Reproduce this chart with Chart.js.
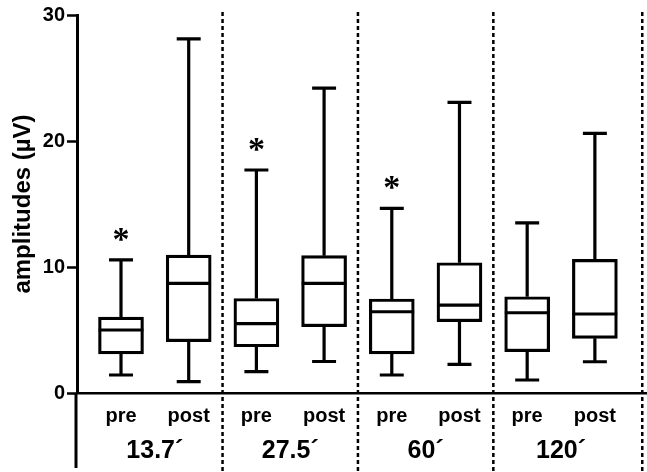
<!DOCTYPE html>
<html>
<head>
<meta charset="utf-8">
<script src="https://cdn.jsdelivr.net/npm/chart.js@4.4.0/dist/chart.umd.min.js"></script>
<style>
  html, body { margin: 0; padding: 0; background: #fff; }
  #wrap { width: 647px; height: 472px; }
</style>
</head>
<body>
<div id="wrap"><canvas id="boxChart"></canvas></div>
<script>
// one box per slot: pre/post for each time point
const slots = ['pre', 'post', 'pre', 'post', 'pre', 'post', 'pre', 'post'];
const groups = ['13.7´', '27.5´', '60´', '120´'];
const whiskerMin = [1.43, 0.9, 1.7, 2.5, 1.43, 2.27, 1.03, 2.48];
const q1 = [3.1, 4.07, 3.67, 5.26, 3.1, 5.66, 3.28, 4.34];
const median = [5.0, 8.7, 5.5, 8.7, 6.45, 6.98, 6.37, 6.27];
const q3 = [6.03, 10.95, 7.5, 10.9, 7.46, 10.34, 7.64, 10.6];
const whiskerMax = [10.56, 28.1, 17.7, 24.2, 14.65, 23.07, 13.5, 20.6];
const significant = [true, false, true, false, true, false, false, false];
const dividers = [2.5, 4.5, 6.5, 8.7];
const yTicks = [0, 10, 20, 30];

const slotPos = slots.map((s, i) => i + 1);
const groupPos = groups.map((g, i) => 2 * i + 1.5);

const fontFamily = "'Liberation Sans', Arial, sans-serif";

const boxExtras = {
  id: 'boxExtras',
  beforeDatasetsDraw(chart) {
    const ctx = chart.ctx;
    const x = chart.scales.x, y = chart.scales.y;
    ctx.save();
    ctx.strokeStyle = '#000';
    // y axis continues below zero
    ctx.lineWidth = 3;
    ctx.beginPath();
    ctx.moveTo(y.right - 1, chart.chartArea.bottom);
    ctx.lineTo(y.right - 1, chart.height - 4);
    ctx.stroke();
    // dashed group separators
    ctx.lineWidth = 2.5;
    ctx.setLineDash([4, 3]);
    dividers.forEach(d => {
      const px = x.getPixelForValue(d);
      ctx.beginPath();
      ctx.moveTo(px, chart.chartArea.top - 3);
      ctx.lineTo(px, chart.height);
      ctx.stroke();
    });
    ctx.restore();
  },
  afterDatasetsDraw(chart) {
    const ctx = chart.ctx;
    const x = chart.scales.x, y = chart.scales.y;
    const capHalf = 0.177;
    const boxHalf = 0.33;
    ctx.save();
    ctx.strokeStyle = '#000';
    ctx.fillStyle = '#000';
    ctx.lineWidth = 3.2;
    slotPos.forEach((p, i) => {
      const cx = x.getPixelForValue(p);
      const cl = x.getPixelForValue(p - capHalf), cr = x.getPixelForValue(p + capHalf);
      const top = y.getPixelForValue(whiskerMax[i]);
      const bot = y.getPixelForValue(whiskerMin[i]);
      ctx.beginPath();
      ctx.moveTo(cx, top); ctx.lineTo(cx, y.getPixelForValue(q3[i]));
      ctx.moveTo(cx, bot); ctx.lineTo(cx, y.getPixelForValue(q1[i]));
      ctx.moveTo(cl, top); ctx.lineTo(cr, top);
      ctx.moveTo(cl, bot); ctx.lineTo(cr, bot);
      const m = y.getPixelForValue(median[i]);
      ctx.moveTo(x.getPixelForValue(p - boxHalf), m);
      ctx.lineTo(x.getPixelForValue(p + boxHalf), m);
      ctx.stroke();
      if (significant[i]) {
        ctx.font = "bold 34px 'Liberation Serif', serif";
        ctx.textAlign = 'center';
        ctx.textBaseline = 'middle';
        ctx.fillText('*', cx, top - 19);
      }
    });
    ctx.restore();
  }
};

new Chart(document.getElementById('boxChart'), {
  type: 'bar',
  data: {
    datasets: [{
      data: slotPos.map((p, i) => ({ x: p, y: [q1[i], q3[i]] })),
      backgroundColor: '#fff',
      borderColor: '#000',
      borderWidth: 3.2,
      borderSkipped: false,
      barThickness: 45
    }]
  },
  options: {
    responsive: true,
    maintainAspectRatio: false,
    animation: false,
    layout: { padding: { top: 15, left: 0, right: 0, bottom: 0 } },
    plugins: { legend: { display: false }, tooltip: { enabled: false } },
    scales: {
      x: {
        type: 'linear',
        min: 0.35,
        max: 8.77,
        offset: false,
        grid: { display: false, drawTicks: false },
        border: { display: true, color: '#000', width: 2.5 },
        afterBuildTicks: s => { s.ticks = slotPos.map(v => ({ value: v })); },
        afterFit: s => { s.height = 38; },
        ticks: {
          autoSkip: false,
          maxRotation: 0,
          padding: 11,
          color: '#000',
          font: { family: fontFamily, size: 20, weight: 'bold' },
          callback: (v) => slots[Math.round(v) - 1]
        }
      },
      x2: {
        type: 'linear',
        position: 'bottom',
        min: 0.35,
        max: 8.77,
        offset: false,
        grid: { display: false, drawTicks: false },
        border: { display: false },
        afterBuildTicks: s => { s.ticks = groupPos.map(v => ({ value: v })); },
        afterFit: s => { s.height = 41; },
        ticks: {
          autoSkip: false,
          maxRotation: 0,
          padding: 5,
          color: '#000',
          font: { family: fontFamily, size: 25, weight: 'bold' },
          callback: (v) => groups[Math.round((v - 1.5) / 2)]
        }
      },
      y: {
        min: 0,
        max: 30,
        afterBuildTicks: s => { s.ticks = yTicks.map(v => ({ value: v })); },
        afterFit: s => { s.width = 77; },
        grid: { drawOnChartArea: false, drawTicks: true, tickLength: 10, tickWidth: 2.5, tickColor: '#000' },
        border: { display: true, color: '#000', width: 3 },
        ticks: {
          padding: 2,
          color: '#000',
          font: { family: fontFamily, size: 20, weight: 'bold' }
        },
        title: {
          display: true,
          text: 'amplitudes (µV)',
          color: '#000',
          padding: { top: 9, bottom: 0 },
          font: { family: fontFamily, size: 24, weight: 'bold' }
        }
      }
    }
  },
  plugins: [boxExtras]
});
</script>
</body>
</html>
